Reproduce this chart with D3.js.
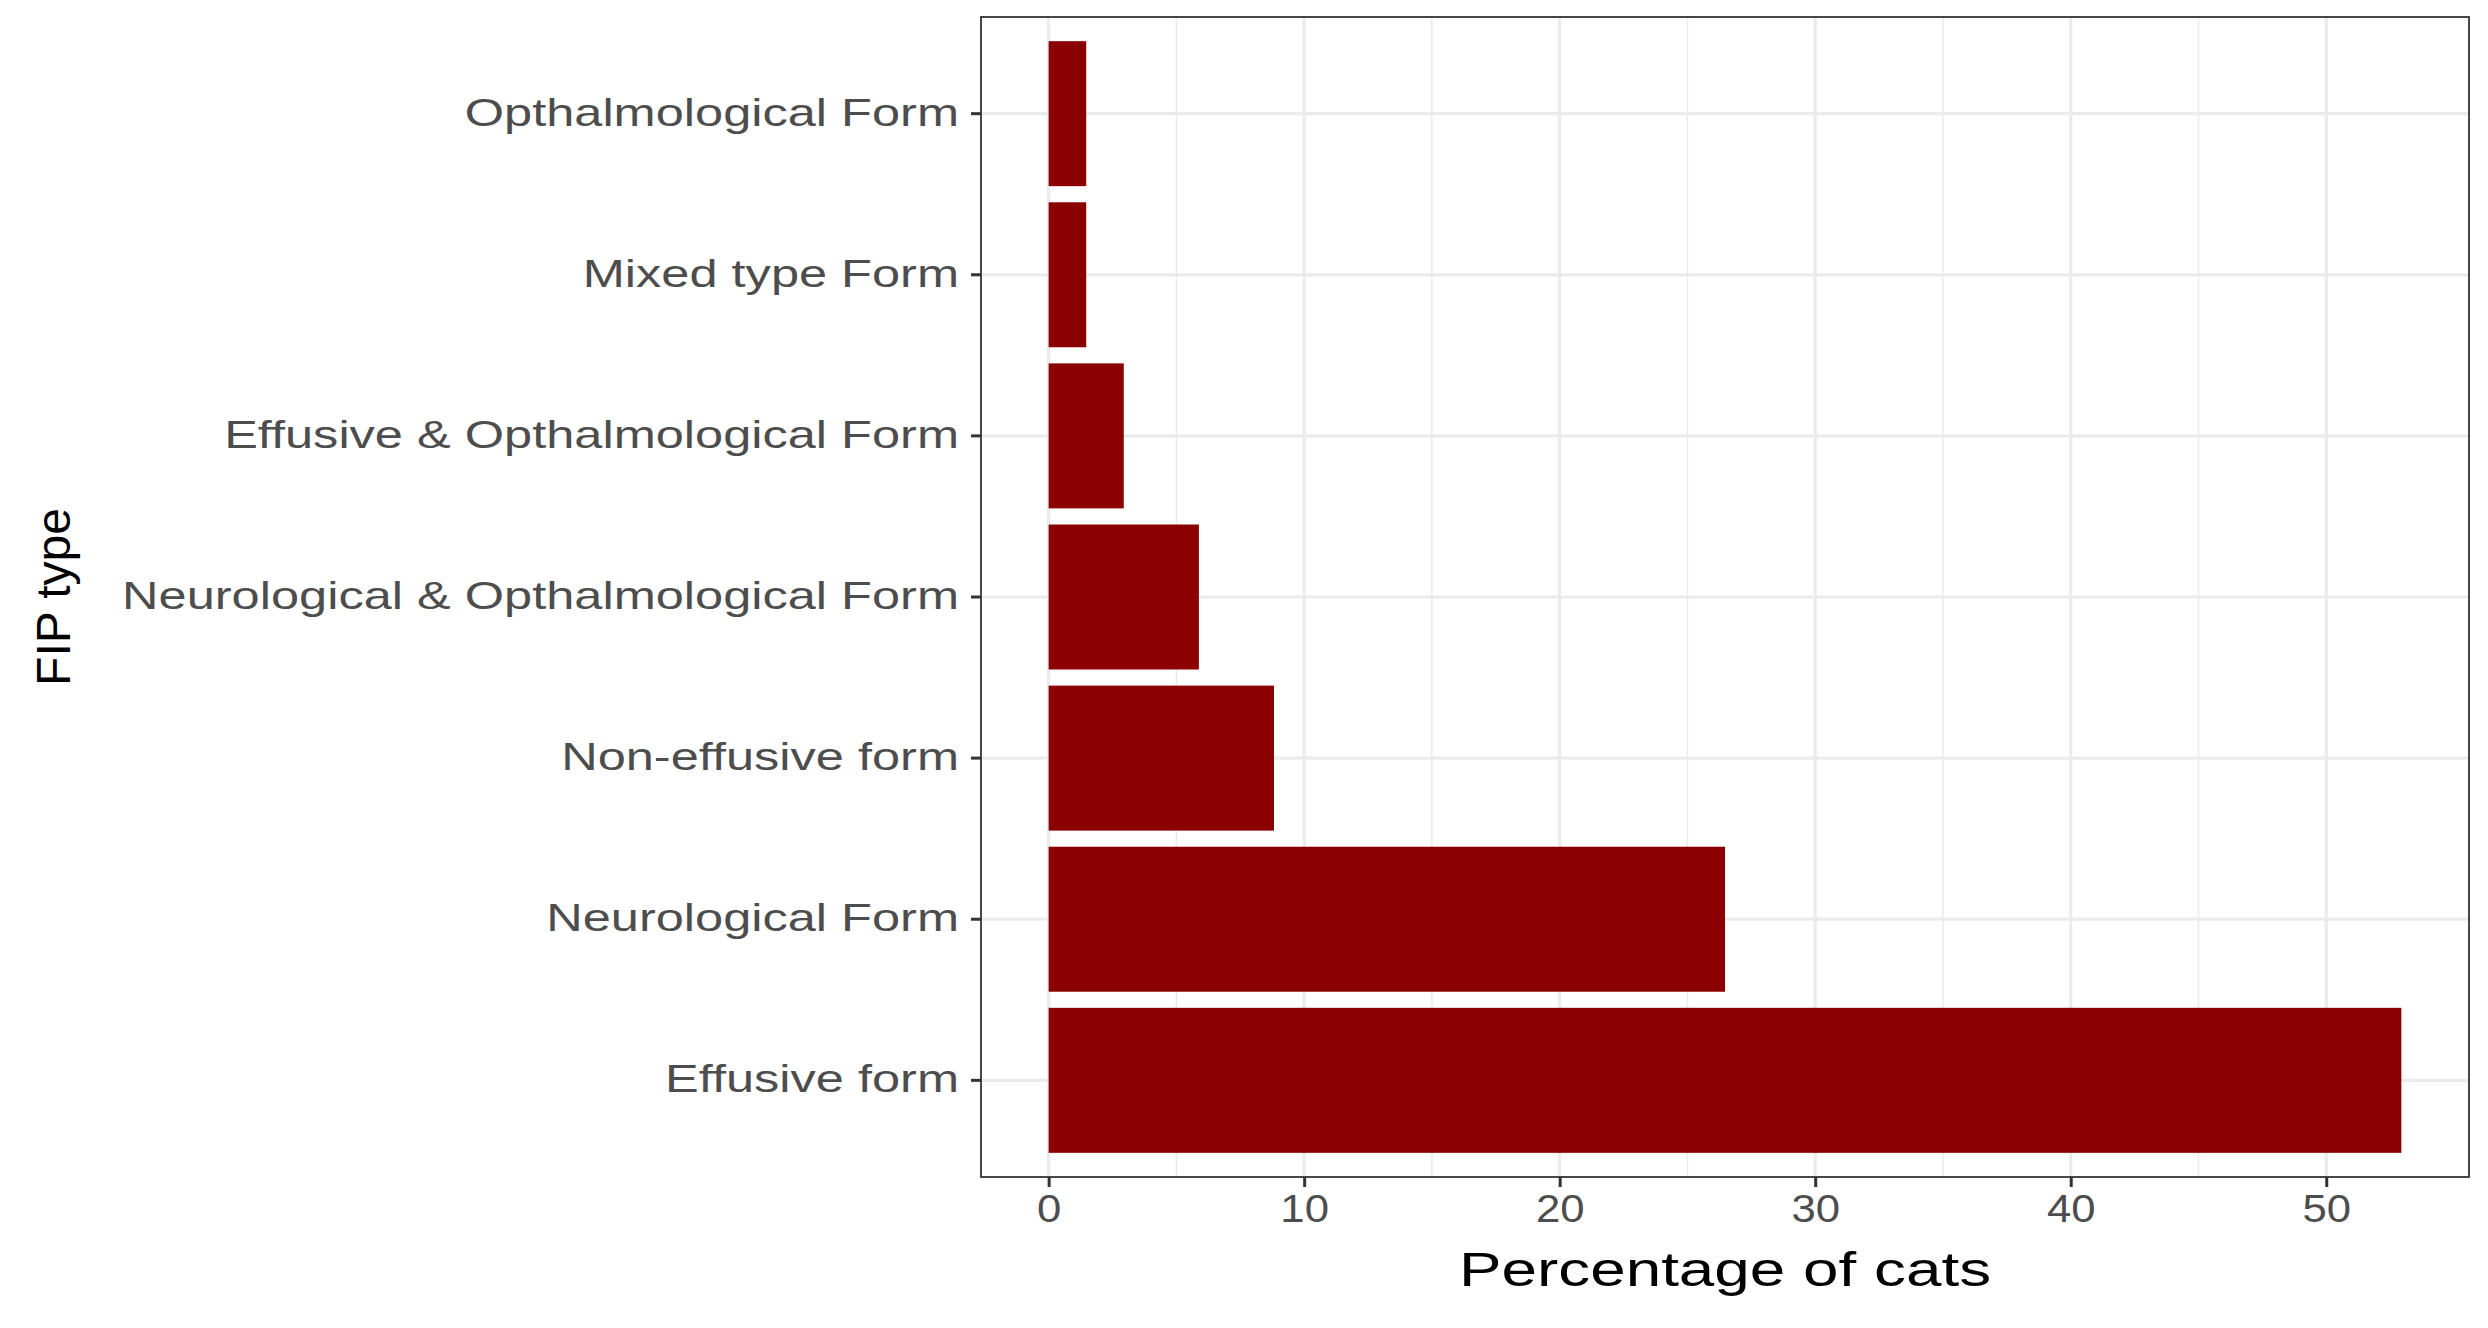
<!DOCTYPE html>
<html>
<head>
<meta charset="utf-8">
<script src="https://cdn.jsdelivr.net/npm/d3@7"></script>
<style>
  body { margin: 0; background: #fff; }
  text { font-family: "Liberation Sans", Arial, sans-serif; }
</style>
</head>
<body>
<svg width="2488" height="1328"></svg>
<script>
// data (n = 68 cats)
var categories = ["Effusive form", "Neurological Form", "Non-effusive form",
  "Neurological & Opthalmological Form", "Effusive & Opthalmological Form",
  "Mixed type Form", "Opthalmological Form"];
var percentages = [52.94, 26.47, 8.82, 5.88, 2.94, 1.47, 1.47];
var xTicks = [0, 10, 20, 30, 40, 50];
var xMinor = [5, 15, 25, 35, 45];

var stretch = 1.33; // reference text is horizontally wide

var svg = d3.select("svg"),
    margin = { top: 17, right: 19, bottom: 151, left: 981 },
    width = +svg.attr("width") - margin.left - margin.right,
    height = +svg.attr("height") - margin.top - margin.bottom,
    g = svg.append("g").attr("transform", "translate(" + margin.left + "," + margin.top + ")");

var maxV = d3.max(percentages);
var x = d3.scaleLinear().domain([-0.05 * maxV, maxV * 1.05]).range([0, width]);
var y = d3.scaleBand().domain(categories.slice().reverse()).range([0, height])
    .paddingInner(0.1).paddingOuter(0.15);

// minor grid
g.selectAll(".minor").data(xMinor).enter().append("line")
    .attr("x1", d => x(d)).attr("x2", d => x(d)).attr("y1", 0).attr("y2", height)
    .attr("stroke", "#ebebeb").attr("stroke-width", 1.6);
// major grid
g.selectAll(".majx").data(xTicks).enter().append("line")
    .attr("x1", d => x(d)).attr("x2", d => x(d)).attr("y1", 0).attr("y2", height)
    .attr("stroke", "#ebebeb").attr("stroke-width", 3.2);
g.selectAll(".majy").data(categories).enter().append("line")
    .attr("x1", 0).attr("x2", width)
    .attr("y1", d => y(d) + y.bandwidth() / 2).attr("y2", d => y(d) + y.bandwidth() / 2)
    .attr("stroke", "#ebebeb").attr("stroke-width", 3.2);

// bars
g.selectAll(".bar").data(categories).enter().append("rect")
    .attr("x", x(0))
    .attr("y", d => y(d))
    .attr("width", (d, i) => x(percentages[i]) - x(0))
    .attr("height", y.bandwidth())
    .attr("fill", "#8b0000");

// panel border
g.append("rect").attr("width", width).attr("height", height)
    .attr("fill", "none").attr("stroke", "#333").attr("stroke-width", 1.8);

// axes
var xAxis = g.append("g")
    .attr("transform", "translate(0," + height + ")")
    .call(d3.axisBottom(x).tickValues(xTicks).tickSize(10).tickPadding(8));
var yAxis = g.append("g")
    .call(d3.axisLeft(y).tickSize(10).tickPadding(12));
[xAxis, yAxis].forEach(function (a) {
    a.select(".domain").remove();
    a.selectAll(".tick line").attr("stroke", "#333").attr("stroke-width", 3);
    a.selectAll(".tick text").attr("fill", "#4d4d4d").style("font-size", "38px");
});
yAxis.selectAll(".tick text")
    .attr("x", -22 / stretch)
    .attr("transform", "scale(" + stretch + ",1)");
xAxis.selectAll(".tick text")
    .attr("transform", "scale(1.15,1)");

svg.append("text")
    .attr("transform", "translate(" + (margin.left + width / 2) + ",1286) scale(" + stretch + ",1)")
    .attr("text-anchor", "middle").style("font-size", "48px").attr("fill", "#000")
    .text("Percentage of cats");

svg.append("text")
    .attr("transform", "translate(70," + (margin.top + height / 2) + ") rotate(-90)")
    .attr("text-anchor", "middle").style("font-size", "48px")
    .style("font-family", "'Liberation Sans Narrow', 'Liberation Sans', sans-serif")
    .attr("fill", "#000")
    .text("FIP type");
</script>
</body>
</html>
